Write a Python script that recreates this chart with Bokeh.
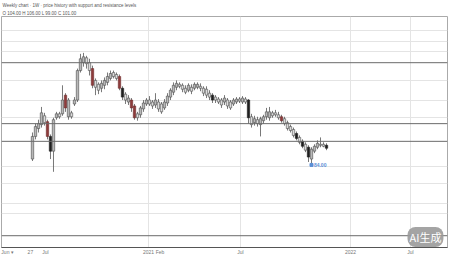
from bokeh.plotting import figure
from bokeh.models import Range1d, FixedTicker, Span, Label, Title
from bokeh.embed import file_html
from bokeh.resources import INLINE
import numpy as np

# ---- data (weekly candles, arbitrary price units) ----
opens = [90,113,121,125,134,128,113,98,132,136,136,155,133,137,146,150,180,188,193,188,
         182,170,166,162,165,168,172,178,176,174,162,156,148,150,144,136,135,141,146,150,
         148,145,148,146,142,147,153,158,163,166,165,162,160,163,162,163,164,162,161,157,
         155,153,151,150,148,150,148,146,148,151,148,151,150,133,127,130,125,129,133,132,
         137,137,135,133,131,127,123,120,116,112,108,105,102,90,98,102,105,105,104]
closes = [113,123,126,137,127,113,98,130,136,133,150,142,150,133,150,180,192,194,187,180,
          165,163,160,167,170,174,177,174,172,162,153,150,152,142,132,132,142,147,150,146,
          144,150,141,138,148,154,160,165,167,164,161,158,165,159,166,166,162,157,155,153,
          150,150,148,145,152,144,142,150,151,149,152,148,132,125,131,126,131,133,138,138,
          134,135,132,129,126,121,119,114,111,107,103,99,92,100,103,106,104,103,101]
highs = [117,126,130,143,137,130,115,132,138,138,165,157,152,139,153,182,197,198,195,192,
         185,172,168,170,173,178,180,180,178,176,164,158,155,152,146,138,144,150,152,154,
         150,157,151,148,151,157,162,168,170,168,167,165,167,166,168,168,167,164,164,160,
         157,155,153,152,155,152,150,152,153,153,154,153,151,136,134,133,133,135,142,143,
         139,140,138,135,133,129,125,122,118,114,110,107,104,102,105,109,112,107,106]
lows = [88,110,117,122,124,110,90,77,130,131,134,138,130,131,144,148,178,184,182,175,
        162,155,156,158,161,165,170,172,170,160,150,146,145,138,130,129,132,138,144,144,
        141,142,138,136,140,144,150,155,160,162,158,156,158,156,160,161,159,154,152,150,
        147,147,146,142,145,141,140,144,146,147,146,146,126,122,124,123,113,126,130,129,
        132,133,130,127,124,119,117,112,109,105,101,97,87,84,96,100,102,102,99]
# r = dark red body, k = black body (others: up = grey, down = light grey)
emphasis = {5: "r", 11: "r", 20: "r", 29: "r", 33: "r", 34: "r", 83: "r",
            6: "k", 30: "k", 60: "k", 72: "k", 88: "k", 90: "k", 92: "k", 98: "k"}

support_levels = [188, 126, 108, 12]
grid_levels = [221, 210, 199, 170, 150, 132, 82, 65, 45, 35]
x_tick_pos = [-8.3, -0.7, 4.3, 38.7, 42.5, 69.3, 106, 126]
x_tick_lab = ["Jun \u25be", "27", "Jul", "2021", "Feb", "Jul", "2022", "Jul"]
x_grid_pos = [38.7, 69.3, 106, 126]
title_1 = "Weekly chart \u00b7 1W \u00b7 price history with support and resistance levels"
title_2 = "O 104.00 H 106.00 L 99.00 C 101.00"
low_label = "84.00"

n = len(opens)
idx = np.arange(n)
o = np.array(opens, float); c = np.array(closes, float)
top = np.maximum(o, c); bot = np.minimum(o, c)
fills, lines = [], []
for i in range(n):
    k = emphasis.get(i)
    if k == "r":
        fills.append("#8e3b3b"); lines.append("#6e2a2a")
    elif k == "k":
        fills.append("#1e1e1e"); lines.append("#1e1e1e")
    elif c[i] >= o[i]:
        fills.append("#b8b8b8"); lines.append("#4a4a4a")
    else:
        fills.append("#dcdcdc"); lines.append("#4a4a4a")

p = figure(width=450, height=257, output_backend="svg", toolbar_location=None,
           x_range=Range1d(-10.33, 138.33), y_range=Range1d(0, 235),
           min_border_left=1, min_border_right=3, min_border_top=15, min_border_bottom=7)
p.background_fill_color = "white"
p.border_fill_color = "white"
p.outline_line_color = "#aaaaaa"
p.yaxis.visible = False
p.ygrid.ticker = FixedTicker(ticks=grid_levels)
p.ygrid.grid_line_color = "#e4e4e4"
p.xgrid.ticker = FixedTicker(ticks=x_grid_pos)
p.xgrid.grid_line_color = "#e4e4e4"

p.title.text = title_1
p.title.text_font_size = "4.5px"
p.title.text_color = "#555555"
p.title.text_font_style = "normal"
p.title.standoff = 1
p.title.offset = 1
p.add_layout(Title(text=title_2, text_font_size="4.5px", text_color="#555555",
                   text_font_style="normal", standoff=1, offset=1), "above")

xa = p.xaxis[0]
xa.ticker = FixedTicker(ticks=x_tick_pos)
xa.major_label_overrides = {t: l for t, l in zip(x_tick_pos, x_tick_lab)}
xa.major_label_text_font_size = "5px"
xa.major_label_text_color = "#777777"
xa.major_tick_out = 0
xa.major_tick_in = 0
xa.minor_tick_out = 0
xa.minor_tick_in = 0
xa.major_label_standoff = 1
xa.axis_line_color = "#555555"

for lv in support_levels:
    p.add_layout(Span(location=lv, dimension="width", line_color="#6a6a6a", line_width=1))

p.segment(idx, highs, idx, lows, color="#555555", line_width=0.8)
p.vbar(x=idx, top=top, bottom=bot, width=0.8, fill_color=fills, line_color=lines, line_width=0.6)

p.scatter([93], [lows[93]], marker="square", size=3, color="#5b8fd6")
p.add_layout(Label(x=93.8, y=lows[93], text=low_label, text_font_size="5px",
                   text_color="#5b8fd6", text_baseline="middle", text_font_style="bold"))

p.add_layout(Label(x=125.0, y=0.5, text="AI生成", text_font_size="11px",
                   text_font="Noto Sans CJK SC", text_color="white",
                   background_fill_color="#9a9a9a", background_fill_alpha=0.9,
                   padding=2, border_radius=8))

open("out.html", "w").write(file_html(p, INLINE))
